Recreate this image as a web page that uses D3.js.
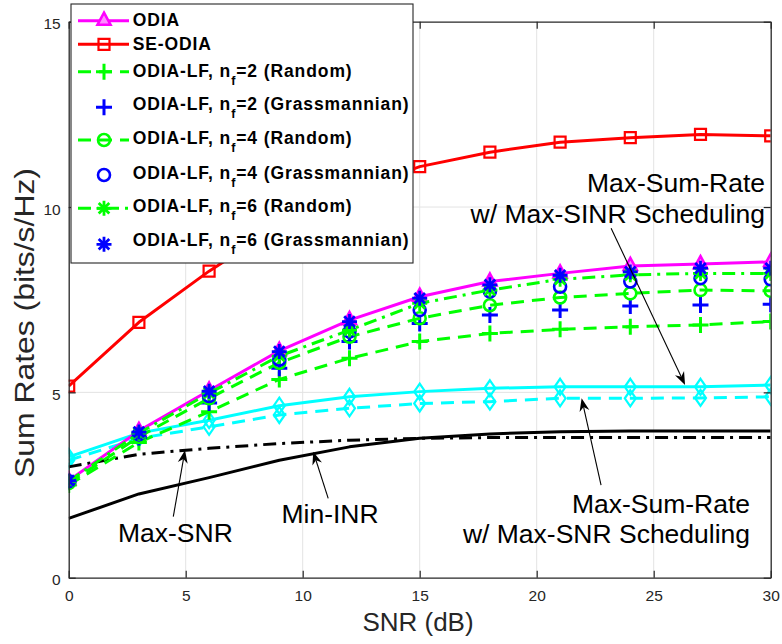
<!DOCTYPE html>
<html><head><meta charset="utf-8">
<script src="https://cdn.jsdelivr.net/npm/d3@7"></script>
<style>body{margin:0;background:#fff}svg{display:block}text{font-family:"Liberation Sans",Arial,sans-serif}</style>
</head><body><svg id="c" width="782" height="644"></svg>
<script>
// ---------- data ----------
const snr = [0,3,6,9,12,15,18,21,24,27,30];
const odia      = [2.62,3.96,5.05,6.12,6.95,7.58,7.99,8.21,8.41,8.46,8.52];
const seOdia    = [5.17,6.89,8.27,9.50,10.40,11.09,11.48,11.75,11.87,11.96,11.92];
const lf2Rand   = [2.50,3.65,4.48,5.35,5.92,6.37,6.59,6.70,6.77,6.82,6.91];
const lf2Grass  = [2.58,3.78,4.71,5.65,6.37,6.86,7.09,7.22,7.33,7.36,7.38];
const lf4Rand   = [2.55,3.80,4.84,5.80,6.50,7.00,7.35,7.56,7.67,7.76,7.74];
const lf4Grass  = [2.60,3.87,4.90,5.88,6.64,7.22,7.72,7.85,7.99,8.08,8.05];
const lf6Rand   = [2.60,3.90,4.98,5.98,6.68,7.40,7.76,8.05,8.17,8.21,8.21];
const lf6Grass  = [2.62,3.93,5.03,6.10,6.91,7.54,7.90,8.16,8.25,8.35,8.35];
const msrMaxSinr= [3.26,3.90,4.25,4.64,4.88,5.02,5.11,5.15,5.15,5.15,5.20];
const msrMaxSnr = [3.17,3.76,4.07,4.39,4.57,4.70,4.75,4.84,4.84,4.85,4.88];
const minInr    = [1.60,2.26,2.70,3.17,3.53,3.76,3.88,3.94,3.96,3.96,3.96];
const maxSnr    = [2.99,3.33,3.49,3.62,3.71,3.76,3.78,3.78,3.78,3.78,3.78];
const xTicks = [0,5,10,15,20,25,30];
const yTicks = [0,5,10,15];
const legendNames = [
  ["ODIA"],["SE-ODIA"],
  ["ODIA-LF, n","f","=2 (Random)"],["ODIA-LF, n","f","=2 (Grassmannian)"],
  ["ODIA-LF, n","f","=4 (Random)"],["ODIA-LF, n","f","=4 (Grassmannian)"],
  ["ODIA-LF, n","f","=6 (Random)"],["ODIA-LF, n","f","=6 (Grassmannian)"]
];
// annotations in data units: text lines, anchor, arrow tail/tip
const annotations = [
  {lines:["Max-Sum-Rate","w/ Max-SINR Scheduling"], tx:29.76, ty:[10.41,9.58], anchor:"end", tail:[23.18,9.43], tip:[26.34,5.20]},
  {lines:["Max-Sum-Rate","w/ Max-SNR Scheduling"], tx:29.12, ty:[1.75,0.94], anchor:"end", tail:[22.75,2.50], tip:[21.92,4.84]},
  {lines:["Max-SNR"], tx:4.56, ty:[0.97], anchor:"middle", tail:[4.47,1.65], tip:[4.97,3.44]},
  {lines:["Min-INR"], tx:11.17, ty:[1.47], anchor:"middle", tail:[11.09,2.14], tip:[10.45,3.40]}
];

// ---------- styles ----------
const DASH = "13,8", DASHDOT = "13,6,3,6";
const series = [
  {v:odia,      color:"#ff00ff", dash:null,    mk:"tri",   line:true},
  {v:seOdia,    color:"#ff0000", dash:null,    mk:"sq",    line:true},
  {v:lf2Rand,   color:"#00ff00", dash:DASH,    mk:"plus",  line:true},
  {v:lf2Grass,  color:"#0000ff", dash:null,    mk:"plus",  line:false},
  {v:lf4Rand,   color:"#00ff00", dash:DASH,    mk:"circ",  line:true},
  {v:lf4Grass,  color:"#0000ff", dash:null,    mk:"circ",  line:false},
  {v:lf6Rand,   color:"#00ff00", dash:DASHDOT, mk:"star",  line:true},
  {v:lf6Grass,  color:"#0000ff", dash:null,    mk:"star",  line:false},
];
const extra = [
  {v:msrMaxSinr, color:"#00ffff", dash:null,    mk:"dia", line:true},
  {v:msrMaxSnr,  color:"#00ffff", dash:DASH,    mk:"dia", line:true},
  {v:minInr,     color:"#000000", dash:null,    mk:null,  line:true},
  {v:maxSnr,     color:"#000000", dash:DASHDOT, mk:null,  line:true},
];

const W=782,H=644;
const svg=d3.select('#c');
svg.append('rect').attr('width',W).attr('height',H).attr('fill','#fff');
const m={l:68.7,r:770.7,t:21.7,b:577.7};
const x=d3.scaleLinear().domain([0,30]).range([m.l,m.r]);
const y=d3.scaleLinear().domain([0,15]).range([m.b,m.t]);

// grid
const grid=svg.append('g').attr('stroke','#e3e3e3').attr('stroke-width',1);
grid.selectAll('.gx').data(xTicks.slice(1,-1)).join('line')
  .attr('x1',d=>x(d)).attr('x2',d=>x(d)).attr('y1',m.t).attr('y2',m.b);
grid.selectAll('.gy').data(yTicks.slice(1,-1)).join('line')
  .attr('y1',d=>y(d)).attr('y2',d=>y(d)).attr('x1',m.l).attr('x2',m.r);

svg.append('clipPath').attr('id','clip').append('rect')
  .attr('x',m.l).attr('y',m.t).attr('width',m.r-m.l).attr('height',m.b-m.t);

function marker(g,type,cx,cy,color){
  const p=g.append('path').attr('fill','none').attr('stroke',color).attr('stroke-linejoin','miter');
  switch(type){
    case 'tri': p.attr('d',`M${cx},${cy-8}L${cx+6.5},${cy+4}L${cx-6.5},${cy+4}Z`).attr('stroke-width',2.6).attr('fill','#ff8cff'); break;
    case 'sq': p.attr('d',`M${cx-5.5},${cy-5.5}h11v11h-11Z`).attr('stroke-width',2.2); break;
    case 'plus': p.attr('d',`M${cx-8},${cy}H${cx+8}M${cx},${cy-8}V${cy+8}`).attr('stroke-width',3); break;
    case 'circ': p.attr('d',`M${cx+6},${cy}A6,6 0 1 1 ${cx-6},${cy}A6,6 0 1 1 ${cx+6},${cy}Z`).attr('stroke-width',2.6); break;
    case 'star': {const r=7.5,d=r*0.7071;
      p.attr('d',`M${cx-r},${cy}H${cx+r}M${cx},${cy-r}V${cy+r}M${cx-d},${cy-d}L${cx+d},${cy+d}M${cx-d},${cy+d}L${cx+d},${cy-d}`).attr('stroke-width',2.8); break;}
    case 'dia': p.attr('d',`M${cx},${cy-8}L${cx+5.5},${cy}L${cx},${cy+8}L${cx-5.5},${cy}Z`).attr('stroke-width',2.2); break;
  }
}

const plot=svg.append('g').attr('clip-path','url(#clip)');
const lineGen=d3.line().x((d,i)=>x(snr[i])).y(d=>y(d));
function drawSeries(s){
  if(s.line){
    plot.append('path').attr('d',lineGen(s.v)).attr('fill','none')
      .attr('stroke',s.color).attr('stroke-width',3)
      .attr('stroke-dasharray',s.dash).attr('stroke-linejoin','round');
  }
  if(s.mk){ s.v.forEach((d,i)=>marker(plot,s.mk,x(snr[i]),y(d),s.color)); }
}
extra.forEach(drawSeries);
series.forEach(drawSeries);

// axes
const axCol='#262626';
const gx=svg.append('g').attr('transform',`translate(0,${m.b})`)
  .call(d3.axisBottom(x).tickValues(xTicks).tickSizeInner(-7).tickSizeOuter(0).tickPadding(12));
const gxt=svg.append('g').attr('transform',`translate(0,${m.t})`)
  .call(d3.axisTop(x).tickValues(xTicks).tickSizeInner(-7).tickSizeOuter(0).tickFormat(''));
const gy=svg.append('g').attr('transform',`translate(${m.l},0)`)
  .call(d3.axisLeft(y).tickValues(yTicks).tickSizeInner(-7).tickSizeOuter(0).tickPadding(8));
const gyr=svg.append('g').attr('transform',`translate(${m.r},0)`)
  .call(d3.axisRight(y).tickValues(yTicks).tickSizeInner(-7).tickSizeOuter(0).tickFormat(''));
[gx,gxt,gy,gyr].forEach(g=>{
  g.select('.domain').attr('stroke',axCol).attr('stroke-width',1.3);
  g.selectAll('line').attr('stroke',axCol).attr('stroke-width',1.2);
  g.selectAll('text').attr('fill',axCol).attr('font-size',15.5)
    .attr('font-family','"Liberation Sans",Arial,sans-serif');
});
gy.selectAll('text').attr('dy','0.45em');

// axis labels
svg.append('text').attr('x',418).attr('y',631).attr('text-anchor','middle')
  .attr('font-size',26).attr('fill',axCol).text('SNR (dB)');
svg.append('text').attr('transform','translate(34.3,323) rotate(-90)')
  .attr('text-anchor','middle').attr('font-size',27).attr('fill',axCol)
  .attr('textLength',310).attr('lengthAdjust','spacingAndGlyphs')
  .text('Sum Rates (bits/s/Hz)');

// annotations
const ann=svg.append('g');
annotations.forEach(a=>{
  a.lines.forEach((t,i)=>ann.append('text').attr('x',x(a.tx)).attr('y',y(a.ty[i]))
    .attr('text-anchor',a.anchor).attr('font-size',26.5).attr('fill','#000').text(t));
  const x0=x(a.tail[0]),y0=y(a.tail[1]),x1=x(a.tip[0]),y1=y(a.tip[1]);
  const L=Math.hypot(x1-x0,y1-y0),ux=(x1-x0)/L,uy=(y1-y0)/L,nx=-uy,ny=ux;
  const hl=13,hw=5,nb=9;
  ann.append('line').attr('x1',x0).attr('y1',y0).attr('x2',x1-ux*nb).attr('y2',y1-uy*nb)
    .attr('stroke','#000').attr('stroke-width',1.1);
  ann.append('path').attr('fill','#000')
    .attr('d',`M${x1},${y1}L${x1-ux*hl+nx*hw},${y1-uy*hl+ny*hw}L${x1-ux*nb},${y1-uy*nb}L${x1-ux*hl-nx*hw},${y1-uy*hl-ny*hw}Z`);
});

// legend
const lg=svg.append('g');
lg.append('rect').attr('x',71).attr('y',4).attr('width',342).attr('height',259)
  .attr('fill','#fff').attr('stroke',axCol).attr('stroke-width',1.1);
const rowSample=[20.7,44.3,71.7,107.3,140,175,208.3,244.3];
const rowBase=[26,50,76.7,110,144,179,212.3,245.7];
series.forEach((s,i)=>{
  const sy=rowSample[i];
  if(s.line){
    lg.append('line').attr('x1',78).attr('x2',129).attr('y1',sy).attr('y2',sy)
      .attr('stroke',s.color).attr('stroke-width',3).attr('stroke-dasharray',s.dash);
  }
  marker(lg,s.mk,104,sy,s.color);
  const t=lg.append('text').attr('x',132.7).attr('y',rowBase[i]).attr('font-size',17.5)
    .attr('font-weight','bold').attr('letter-spacing',0.9).attr('fill','#000');
  const parts=legendNames[i];
  t.append('tspan').text(parts[0]);
  if(parts.length>1){
    t.append('tspan').attr('font-size',12.5).attr('dy',8).text(parts[1]);
    t.append('tspan').attr('dy',-8).text(parts[2]);
  }
});
</script></body></html>
